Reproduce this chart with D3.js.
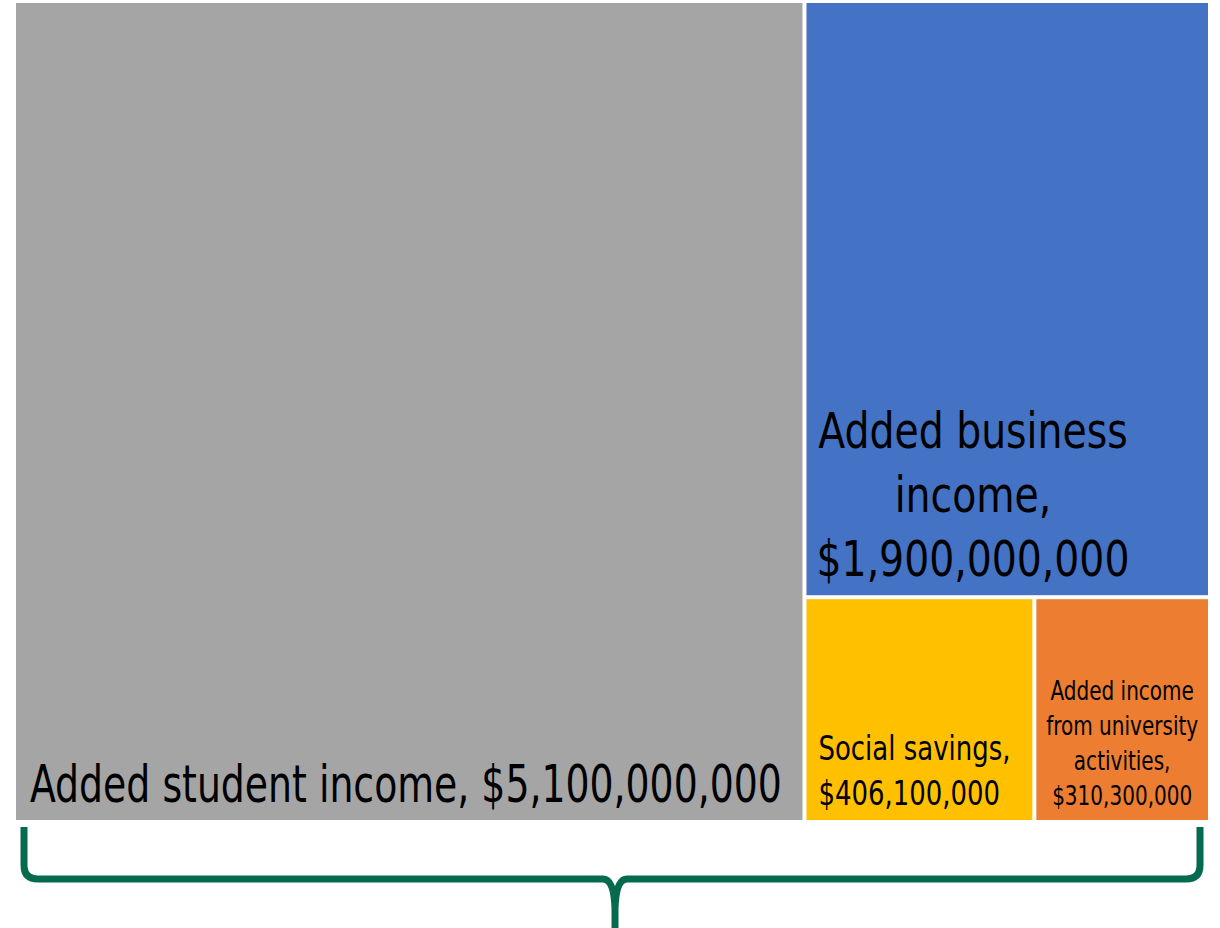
<!DOCTYPE html>
<html>
<head>
<meta charset="utf-8">
<script src="https://cdn.jsdelivr.net/npm/d3@7"></script>
<style>
  html, body { margin: 0; padding: 0; background: #fff; }
  svg { display: block; }
  text { font-family: "Liberation Sans Narrow", "DejaVu Sans Condensed", "Roboto Condensed", sans-serif; fill: #000; }
</style>
</head>
<body>
<div id="chart"></div>
<script>
// Data
const categories = ["Added student income", "Added business income", "Social savings", "Added income from university activities"];
const values = [5100000000, 1900000000, 406100000, 310300000];
const colors = ["#a5a5a5", "#4472c4", "#ffc000", "#ed7d31"];
// label lines (as printed in the chart)
const labelLines = [
    ["Added student income, $5,100,000,000"],
    ["Added business", "income,", "$1,900,000,000"],
    ["Social savings,", "$406,100,000"],
    ["Added income", "from university", "activities,", "$310,300,000"]
];

(function() {
    const width = 1220, height = 928;
    const svg = d3.select("#chart").append("svg")
        .attr("width", width)
        .attr("height", height);

    const root = d3.hierarchy({ children: categories.map((c, i) => ({ name: c, value: values[i], i })) })
        .sum(d => d.value || 0);

    d3.treemap()
        .tile(d3.treemapBinary)
        .size([1192, 817])
        .paddingInner(4)(root);

    const g = svg.append("g").attr("transform", "translate(16,3)");

    const cell = g.selectAll("g")
        .data(root.leaves())
        .join("g")
        .attr("transform", d => `translate(${d.x0},${d.y0})`);

    cell.append("rect")
        .attr("width", d => d.x1 - d.x0)
        .attr("height", d => d.y1 - d.y0)
        .attr("fill", d => colors[d.data.i]);

    // label styles per tile: font size, line height, anchor, offsets, widest line width
    const labelStyle = [
        { size: 52, lh: 60, anchor: "start", x: 14, bottom: 18, fit: 752 },
        { size: 50, lh: 64, anchor: "middle", cx: 973, baseY: 448, fit: 313 },
        { size: 33, lh: 45, anchor: "start", x: 12, bottom: 15, fit: 192 },
        { size: 27, lh: 35, anchor: "middle", bottom: 15, fit: 152 }
    ];

    cell.each(function(d) {
        const s = labelStyle[d.data.i];
        const lines = labelLines[d.data.i];
        const w = d.x1 - d.x0, h = d.y1 - d.y0;
        const tx = s.anchor === "middle" ? (s.cx != null ? s.cx - 16 - d.x0 : w / 2) : s.x;
        const lastY = s.baseY != null ? s.baseY - 3 - d.y0 + (lines.length - 1) * s.lh : h - s.bottom;
        const text = d3.select(this).append("text")
            .attr("text-anchor", s.anchor)
            .style("font-size", s.size + "px");
        let widest = 0;
        lines.forEach((line, k) => {
            const ts = text.append("tspan")
                .attr("x", tx)
                .attr("y", lastY - (lines.length - 1 - k) * s.lh)
                .text(line);
            widest = Math.max(widest, ts.node().getComputedTextLength());
        });
        const k = s.fit / widest;
        text.attr("transform", `translate(${tx},0) scale(${k},1) translate(${-tx},0)`);
    });

    // Bracket under the treemap
    const brace = d3.path();
    const bl = 24, br = 1200, by = 879, bTop = 827, mid = 615, r = 14;
    brace.moveTo(bl, bTop);
    brace.lineTo(bl, by - r);
    brace.quadraticCurveTo(bl, by, bl + r, by);
    brace.lineTo(mid - 12, by);
    brace.quadraticCurveTo(mid - 1, by, mid, by + 30);
    brace.lineTo(mid, height + 5);
    brace.moveTo(br, bTop);
    brace.lineTo(br, by - r);
    brace.quadraticCurveTo(br, by, br - r, by);
    brace.lineTo(mid + 12, by);
    brace.quadraticCurveTo(mid + 1, by, mid, by + 30);

    svg.append("path")
        .attr("d", brace.toString())
        .attr("fill", "none")
        .attr("stroke", "#066b4e")
        .attr("stroke-width", 7);
})();
</script>
</body>
</html>
